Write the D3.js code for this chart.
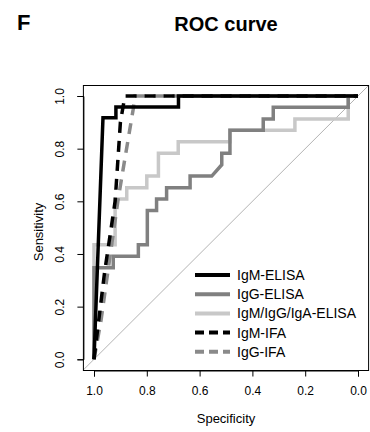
<!DOCTYPE html>
<html>
<head>
<meta charset="utf-8">
<script src="https://cdn.jsdelivr.net/npm/d3@7"></script>
<style>
  body { margin: 0; background: #fff; }
  svg { display: block; font-family: "Liberation Sans", Arial, sans-serif; }
</style>
</head>
<body>
<div id="chart"></div>
<script>
// ROC curves: specificity (x, reversed) vs sensitivity (y)
var igmElisaSpec = [1, 0.966, 0.917, 0.917, 0.68, 0.68, 0];
var igmElisaSens = [0, 0.917, 0.917, 0.958, 0.958, 1, 1];

var iggElisaSpec = [1, 1, 0.927, 0.927, 0.832, 0.832, 0.798, 0.798, 0.763, 0.763, 0.725, 0.725,
    0.636, 0.636, 0.554, 0.516, 0.516, 0.485, 0.485, 0.359, 0.359, 0.321, 0.321, 0.037, 0.037, 0];
var iggElisaSens = [0, 0.348, 0.348, 0.391, 0.391, 0.435, 0.435, 0.565, 0.565, 0.609, 0.609, 0.652,
    0.652, 0.696, 0.696, 0.739, 0.783, 0.783, 0.870, 0.870, 0.913, 0.913, 0.957, 0.957, 1, 1];

var comboSpec = [1, 1, 0.92, 0.92, 0.876, 0.876, 0.80, 0.80, 0.756, 0.756, 0.681, 0.681,
    0.485, 0.485, 0.239, 0.239, 0.037, 0.037, 0];
var comboSens = [0, 0.435, 0.435, 0.609, 0.609, 0.652, 0.652, 0.696, 0.696, 0.783, 0.783, 0.826,
    0.826, 0.870, 0.870, 0.913, 0.913, 1, 1];

var igmIfaSpec = [1, 0.96, 0.92, 0.90, 0.883, 0];
var igmIfaSens = [0, 0.33, 0.60, 0.90, 1, 1];

var iggIfaSpec = [1, 0.973, 0.955, 0.909, 0.895, 0.852, 0.845, 0];
var iggIfaSens = [0, 0.15, 0.28, 0.605, 0.69, 0.947, 1, 1];

var seriesNames = ["IgM-ELISA", "IgG-ELISA", "IgM/IgG/IgA-ELISA", "IgM-IFA", "IgG-IFA"];
var tickValues = [1.0, 0.8, 0.6, 0.4, 0.2, 0.0];

var width = 370, height = 432;

var x = d3.scaleLinear().domain([1, 0]).range([94, 358]);
var y = d3.scaleLinear().domain([0, 1]).range([359.3, 96]);

// plot box (R style 4% padding)
var box = {left: 83.4, right: 368.6, top: 85.5, bottom: 370.5};

var svg = d3.select("#chart").append("svg")
    .attr("width", width)
    .attr("height", height);

svg.append("defs").append("clipPath").attr("id", "plotclip")
  .append("rect")
    .attr("x", box.left).attr("y", box.top)
    .attr("width", box.right - box.left).attr("height", box.bottom - box.top);

// panel letter and title
svg.append("text")
    .attr("x", 17).attr("y", 29.5)
    .style("font-size", "22px").style("font-weight", "bold")
    .text("F");
svg.append("text")
    .attr("x", 226).attr("y", 30.5)
    .attr("text-anchor", "middle")
    .style("font-size", "20px").style("font-weight", "bold")
    .text("ROC curve");

// reference diagonal
var plot = svg.append("g").attr("clip-path", "url(#plotclip)");
plot.append("line")
    .attr("x1", x(1.1)).attr("y1", y(-0.1))
    .attr("x2", x(-0.1)).attr("y2", y(1.1))
    .attr("stroke", "#b3b3b3").attr("stroke-width", 1);

// drawing order: light first, black solid last (it covers the shared top edge)
var series = [
    {spec: comboSpec, sens: comboSens, color: "#c8c8c8", dash: null},
    {spec: iggElisaSpec, sens: iggElisaSens, color: "#808080", dash: null},
    {spec: iggIfaSpec, sens: iggIfaSens, color: "#8a8a8a", dash: "11,8"},
    {spec: igmIfaSpec, sens: igmIfaSens, color: "#000000", dash: "11,8"},
    {spec: igmElisaSpec, sens: igmElisaSens, color: "#000000", dash: null}
];

var line = d3.line()
    .x(function(d) { return x(d[0]); })
    .y(function(d) { return y(d[1]); });

series.forEach(function(s) {
    var pts = s.spec.map(function(v, i) { return [v, s.sens[i]]; });
    plot.append("path")
        .datum(pts)
        .attr("d", line)
        .attr("fill", "none")
        .attr("stroke", s.color)
        .attr("stroke-width", 3.5)
        .attr("stroke-dasharray", s.dash)
        .attr("stroke-linejoin", "miter");
});

// box
svg.append("rect")
    .attr("x", box.left).attr("y", box.top)
    .attr("width", box.right - box.left).attr("height", box.bottom - box.top)
    .attr("fill", "none").attr("stroke", "#000").attr("stroke-width", 1);

// axes
var xAxis = d3.axisBottom(x).tickValues(tickValues).tickFormat(d3.format(".1f")).tickSizeOuter(0).tickSize(6).tickPadding(10);
var yAxis = d3.axisLeft(y).tickValues(tickValues).tickFormat(d3.format(".1f")).tickSizeOuter(0).tickSize(6).tickPadding(8);

var gx = svg.append("g").attr("transform", "translate(0," + box.bottom + ")").call(xAxis);
var gy = svg.append("g").attr("transform", "translate(" + box.left + ",0)").call(yAxis);
[gx, gy].forEach(function(g) {
    g.selectAll("text").style("font-size", "12px").style("font-family", "Liberation Sans, Arial, sans-serif").attr("fill", "#000");
    g.selectAll("line, path").attr("stroke", "#000");
});
gy.selectAll(".tick text")
    .attr("transform", function() { return "rotate(-90)"; })
    .attr("x", 0).attr("dy", 0)
    .attr("y", -19)
    .style("text-anchor", "middle");

// axis titles
svg.append("text")
    .attr("x", 226).attr("y", 423)
    .attr("text-anchor", "middle")
    .style("font-size", "13px")
    .text("Specificity");
svg.append("text")
    .attr("transform", "translate(43,232) rotate(-90)")
    .attr("text-anchor", "middle")
    .style("font-size", "13px")
    .text("Sensitivity");

// legend
var legendStyles = [
    {color: "#000000", dash: null},
    {color: "#808080", dash: null},
    {color: "#c8c8c8", dash: null},
    {color: "#000000", dash: "9,5"},
    {color: "#8a8a8a", dash: "9,5"}
];
var legend = svg.append("g");
seriesNames.forEach(function(name, i) {
    var cy = 275 + i * 19.2;
    legend.append("line")
        .attr("x1", 195).attr("x2", 230)
        .attr("y1", cy).attr("y2", cy)
        .attr("stroke", legendStyles[i].color)
        .attr("stroke-width", 4)
        .attr("stroke-dasharray", legendStyles[i].dash);
    legend.append("text")
        .attr("x", 237).attr("y", cy + 5)
        .style("font-size", "14px")
        .text(name);
});
</script>
</body>
</html>
